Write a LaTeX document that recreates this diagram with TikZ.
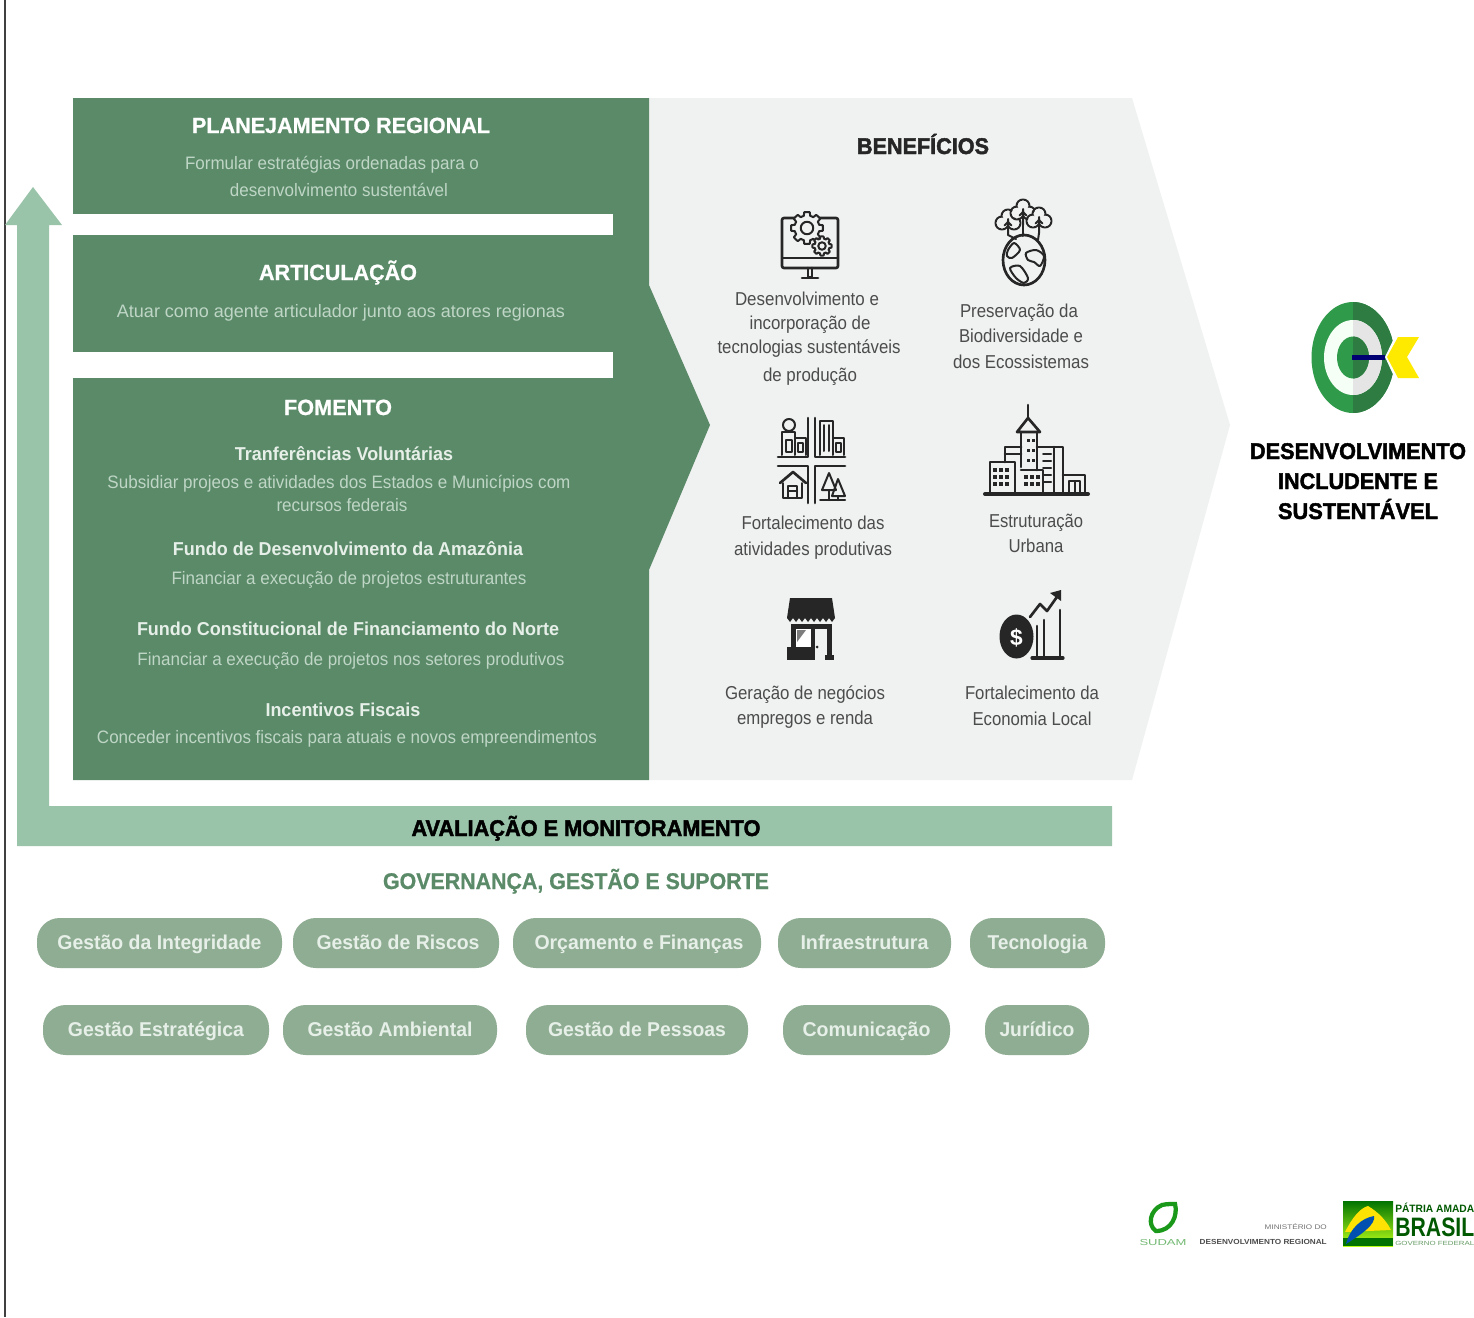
\documentclass[tikz,border=0pt]{standalone}
\usepackage{fontspec}
\usepackage{graphicx}
\setmainfont{Liberation Sans}
\newfontfamily\heavyfont[FakeBold=2]{Liberation Sans Bold}
\newfontfamily\semifont[FakeBold=0.8]{Liberation Sans Bold}
\usetikzlibrary{calc}
\newlength\pxu \setlength\pxu{0.75pt}
\newcommand\fitw[2]{\resizebox{#1\pxu}{\height}{#2}}
\definecolor{dkgreen}{HTML}{5A8A68}
\definecolor{ltgreen}{HTML}{9AC4AA}
\definecolor{bggray}{HTML}{F0F1F1}
\definecolor{pillgreen}{HTML}{8FAD92}
\definecolor{bodytx}{HTML}{BFD6C6}
\definecolor{subtx}{HTML}{E6EFE8}
\definecolor{captx}{HTML}{4C4C4C}
\definecolor{ink}{HTML}{262626}
\tikzset{
  lbl/.style={inner sep=0pt,anchor=base,align=center},
  ttl/.style={lbl,text=white,font=\fontsize{16.5}{18}\selectfont\semifont},
  bodyl/.style={lbl,text=bodytx,font=\fontsize{13.5}{15}\selectfont},
  subl/.style={lbl,text=subtx,font=\fontsize{14}{16}\selectfont\bfseries},
  capl/.style={lbl,text=captx,font=\fontsize{14}{16}\selectfont},
  bigl/.style={lbl,text=black,font=\fontsize{17}{19}\selectfont\heavyfont},
  pill/.style={fill=pillgreen,rounded corners=17pt,inner sep=0pt,minimum height=37.5pt,text=subtx,font=\fontsize{15}{17}\selectfont\bfseries,text height=13pt,text depth=3pt},
  icon/.style={draw=ink,line width=2pt,line join=round,line cap=round},
  iconthin/.style={draw=ink,line width=1.5pt,line join=round,line cap=round},
  iconfill/.style={fill=ink},
}
\newcommand\gearic[3]{\draw[iconthin,fill=bggray] plot[domain=0:360,samples=73,variable=\t] ({#1+(#3+(cos(8*\t)>0?0.28*#3:0))*cos(\t)},{#2+(#3+(cos(8*\t)>0?0.28*#3:0))*sin(\t)}) -- cycle;
  \draw[iconthin] (#1,#2) ellipse ({0.5*#3} and {0.5*#3});}
\newcommand\treeic[2]{\foreach \dx/\dy in {-6/1,6/1,0/-6}{\draw[iconthin] (#1+\dx,#2+\dy) circle (6.5);}
  \foreach \dx/\dy in {-6/1,6/1,0/-6}{\fill[bggray] (#1+\dx,#2+\dy) circle (5.4);}
  \draw[iconthin] (#1,#2-3) -- (#1,#2+13) (#1,#2) -- (#1-3.5,#2+3.5) (#1,#2) -- (#1+3.5,#2+3.5);}
\begin{document}
\begin{tikzpicture}[x=0.75pt,y=-0.75pt]
\useasboundingbox (0,0) rectangle (1474,1317);
\fill[white] (0,0) rectangle (1474,1317);
\draw[line width=1.1pt,color=black!75] (5,0) -- (5,1317);
% panels
\fill[bggray] (649,98) -- (1132,98) -- (1230,425) -- (1132,780) -- (649,780) -- cycle;
\fill[dkgreen] (73,98) -- (649,98) -- (649,285) -- (710,425) -- (649,570) -- (649,780) -- (73,780) -- cycle;
\fill[white] (73,214) rectangle (613,235);
\fill[white] (73,352) rectangle (613,378);
% arrow
\fill[ltgreen] (17,846) -- (1112,846) -- (1112,806) -- (49,806) -- (49,225) -- (62,225) -- (33,187) -- (5,225) -- (17,225) -- cycle;
% left text
\node[ttl] (t1) at (341,133) {\fitw{298}{PLANEJAMENTO REGIONAL}};
\node[bodyl] (t2) at (332,169) {\fitw{294}{Formular estratégias ordenadas para o}};
\node[bodyl] (t3) at (339,196) {\fitw{218}{desenvolvimento sustentável}};
\node[ttl] (t4) at (338,280) {\fitw{158}{ARTICULAÇÃO}};
\node[bodyl] (t5) at (341,317) {\fitw{448}{Atuar como agente articulador junto aos atores regionas}};
\node[ttl] (t6) at (338,415) {\fitw{108}{FOMENTO}};
\node[subl] (t7) at (344,460) {\fitw{218}{Tranferências Voluntárias}};
\node[bodyl] (t8) at (339,488) {\fitw{463}{Subsidiar projeos e atividades dos Estados e Municípios com}};
\node[bodyl] (t9) at (342,511) {\fitw{131}{recursos federais}};
\node[subl] (t10) at (348,555) {\fitw{350}{Fundo de Desenvolvimento da Amazônia}};
\node[bodyl] (t11) at (349,584) {\fitw{355}{Financiar a execução de projetos estruturantes}};
\node[subl] (t12) at (348,635) {\fitw{422}{Fundo Constitucional de Financiamento do Norte}};
\node[bodyl] (t13) at (351,665) {\fitw{427}{Financiar a execução de projetos nos setores produtivos}};
\node[subl] (t14) at (343,716) {\fitw{155}{Incentivos Fiscais}};
\node[bodyl] (t15) at (347,743) {\fitw{500}{Conceder incentivos fiscais para atuais e novos empreendimentos}};
% benefits
\node[bigl,text=ink] (b0) at (923,154) {\fitw{132}{BENEFÍCIOS}};
\node[capl] (c1) at (807,305) {\fitw{144}{Desenvolvimento e}};
\node[capl] (c2) at (810,329) {\fitw{121}{incorporação de}};
\node[capl] (c3) at (809,353) {\fitw{183}{tecnologias sustentáveis}};
\node[capl] (c4) at (810,381) {\fitw{94}{de produção}};
\node[capl] (c5) at (1019,317) {\fitw{118}{Preservação da}};
\node[capl] (c6) at (1021,342) {\fitw{124}{Biodiversidade e}};
\node[capl] (c7) at (1021,368) {\fitw{136}{dos Ecossistemas}};
\node[capl] (c8) at (813,529) {\fitw{143}{Fortalecimento das}};
\node[capl] (c9) at (813,555) {\fitw{158}{atividades produtivas}};
\node[capl] (c10) at (1036,527) {\fitw{94}{Estruturação}};
\node[capl] (c11) at (1036,552) {\fitw{55}{Urbana}};
\node[capl] (c12) at (805,699) {\fitw{160}{Geração de negócios}};
\node[capl] (c13) at (805,724) {\fitw{136}{empregos e renda}};
\node[capl] (c14) at (1032,699) {\fitw{134}{Fortalecimento da}};
\node[capl] (c15) at (1032,725) {\fitw{119}{Economia Local}};
% icon 1 monitor
\draw[icon,rounded corners=1.5pt] (782,218) rectangle (838,268);
\draw[iconthin] (782,258) -- (838,258);
\draw[icon] (808,268) -- (808,277) -- (812,277) -- (812,268);
\draw[icon] (802,278) -- (818,278);
\gearic{807}{228}{12.5}
\gearic{822}{246}{7.5}
% icon 2 globe
\draw[icon] (1024,260) ellipse (21 and 25);
\draw[iconthin] plot[smooth cycle,tension=0.5] coordinates {(1008,250) (1014,243) (1020,250) (1012,258) (1007,256)};
\draw[iconthin] plot[smooth cycle,tension=0.5] coordinates {(1026,253) (1036,250) (1044,256) (1040,266) (1034,262) (1028,260)};
\draw[iconthin] plot[smooth cycle,tension=0.5] coordinates {(1010,268) (1020,266) (1028,278) (1024,283) (1016,278)};
\treeic{1008}{222}
\treeic{1023}{212}
\treeic{1039}{220}
\draw[iconthin] (1008,235) -- (1016,239);
\draw[iconthin] (1023,225) -- (1023,236);
\draw[iconthin] (1039,233) -- (1038,240);
% icon 3 activities
\draw[icon] (778,457) -- (808,457) -- (808,418);
\draw[icon] (845,457) -- (815,457) -- (815,418);
\draw[icon] (778,466) -- (808,466) -- (808,503);
\draw[icon] (845,466) -- (815,466) -- (815,503);
\draw[iconthin] (782,455) -- (782,432) -- (795,432) -- (795,455) (795,438) -- (806,438) -- (806,455);
\draw[iconthin] (789,425) circle (6);
\draw[iconthin] (786,440) rectangle (792,452);
\draw[iconthin] (798,443) rectangle (803,452);
\draw[iconthin] (820,455) -- (820,421) -- (833,421) -- (833,455) (833,438) -- (844,438) -- (844,455);
\draw[iconthin] (824,425) -- (824,451) (829,425) -- (829,451);
\draw[iconthin] (836,443) rectangle (841,452);
\draw[icon] (780,483) -- (793,472) -- (806,483);
\draw[iconthin] (783,483) -- (783,498) -- (802,498) -- (802,483);
\draw[iconthin] (788,486) rectangle (797,498);
\draw[iconthin] (788,491) -- (797,491);
\draw[iconthin] (829,473) -- (822,490) -- (836,490) -- cycle;
\draw[iconthin] (838,479) -- (832,496) -- (845,496) -- cycle;
\draw[iconthin] (829,490) -- (829,500) (838,496) -- (838,500);
\draw[iconthin] (820,500) -- (845,500);
% icon 4 city
\draw[icon] (1028,405) -- (1028,419);
\draw[icon,fill=bggray] (1017,432) -- (1028,418) -- (1040,432) -- cycle;
\draw[icon] (1005,462) -- (1005,447) -- (1021,447) (1005,454) -- (1021,454);
\draw[icon] (1021,432) -- (1021,467) (1037,432) -- (1037,470);
\draw[icon] (1037,447) -- (1063,447) -- (1063,492);
\draw[icon] (1054,447) -- (1054,492);
\draw[icon] (990,492) -- (990,462) -- (1015,462) -- (1015,492);
\draw[icon] (1021,470) -- (1043,470) -- (1043,492);
\draw[icon] (1063,475) -- (1085,475) -- (1085,492);
\draw[iconthin] (1069,492) -- (1069,481) -- (1080,481) -- (1080,492) (1074.5,481) -- (1074.5,492);
\foreach \wx in {995,1001,1007}{\foreach \wy in {470,477,484}{\fill[ink] (\wx-2,\wy-2) rectangle (\wx+2,\wy+2);}}
\foreach \wx in {1026,1032,1038}{\foreach \wy in {477,484}{\fill[ink] (\wx-2,\wy-2) rectangle (\wx+2,\wy+2);}}
\foreach \wy in {440,450,460}{\fill[ink] (1027,\wy-1.5) rectangle (1030,\wy+1.5);\fill[ink] (1032,\wy-1.5) rectangle (1035,\wy+1.5);}
\foreach \wy in {454,461,468,475,482}{\draw[iconthin] (1043,\wy) -- (1051,\wy);}
\draw[icon,line width=3pt] (985,494) -- (1088,494);
% icon 5 store
\fill[ink] (790,598) -- (832,598) -- (835,618) -- (787,618) -- cycle;
\foreach \sx in {787,793,799,805,811,817,823,829}{\fill[ink] (\sx,618) -- (\sx+6,618) -- (\sx+3,622) -- cycle;}
\fill[ink] (791,624) rectangle (832,629);
\fill[ink] (791,624) rectangle (796,660);
\fill[ink] (787,647) rectangle (815,660);
\fill[ink] (811,624) rectangle (815,660);
\fill[ink] (827,624) rectangle (832,660);
\fill[ink] (825,655) rectangle (834,660);
\fill[white] (796,629) rectangle (811,647);
\fill[ink!60] (797,630) -- (806,630) -- (797,642) -- cycle;
\fill[ink] (817,647) circle (1.5);
% icon 6 coin
\fill[ink] (1016.5,636.5) ellipse (17 and 22);
\node[lbl,text=white,font=\fontsize{17}{19}\selectfont\bfseries] (dollar) at (1016.5,645) {\$};
\draw[icon] (1037,657) -- (1037,626);
\draw[icon] (1044,657) -- (1044,620);
\draw[icon] (1060,657) -- (1060,610);
\draw[icon,line width=2.4pt] (1032,658) -- (1063,658);
\draw[icon] (1030,617) -- (1040,604) -- (1047,611) -- (1059,594);
\fill[ink] (1050,593) -- (1061,590) -- (1061,601) -- cycle;
% bottom band text
\node[bigl] (av) at (586,836) {\fitw{349}{AVALIAÇÃO E MONITORAMENTO}};
\node[lbl,text=dkgreen,font=\fontsize{17}{19}\selectfont\semifont] (gov) at (576,889) {\fitw{386}{GOVERNANÇA, GESTÃO E SUPORTE}};
% pills
\node[pill,minimum width=183.75pt] (p1) at (159.5,943) {\fitw{204}{Gestão da Integridade}};
\node[pill,minimum width=154.5pt] (p2) at (396,943) {\kern3pt\fitw{163}{Gestão de Riscos}};
\node[pill,minimum width=186pt] (p3) at (637,943) {\kern3pt\fitw{209}{Orçamento e Finanças}};
\node[pill,minimum width=129.75pt] (p4) at (864.5,943) {\fitw{128}{Infraestrutura}};
\node[pill,minimum width=101.25pt] (p5) at (1037.5,943) {\fitw{100}{Tecnologia}};
\node[pill,minimum width=169.5pt] (p6) at (156,1030) {\fitw{176}{Gestão Estratégica}};
\node[pill,minimum width=160.5pt] (p7) at (390,1030) {\fitw{165}{Gestão Ambiental}};
\node[pill,minimum width=166.5pt] (p8) at (637,1030) {\fitw{178}{Gestão de Pessoas}};
\node[pill,minimum width=125.25pt] (p9) at (866.5,1030) {\fitw{128}{Comunicação}};
\node[pill,minimum width=78pt] (p10) at (1037,1030) {\fitw{75}{Jurídico}};
% target logo
\definecolor{logoL}{HTML}{2F9A4A}
\definecolor{logoR}{HTML}{2E7C42}
\fill[logoL] (1353,357.5) ellipse (41.5 and 55.5);
\begin{scope}
\clip (1353,290) rectangle (1420,425);
\fill[logoR] (1353,357.5) ellipse (41.5 and 55.5);
\end{scope}
\fill[white!96!green] (1353,357.5) ellipse (29 and 37.5);
\begin{scope}
\clip (1353,290) rectangle (1420,425);
\fill[black!10] (1353,357.5) ellipse (29 and 37.5);
\end{scope}
\fill[logoL] (1353,357.5) ellipse (16 and 21);
\begin{scope}
\clip (1353,290) rectangle (1420,425);
\fill[logoR] (1353,357.5) ellipse (16 and 21);
\end{scope}
\fill[white] (1385,357) -- (1398,330) -- (1420,330) -- (1420,385) -- (1398,385) -- cycle;
\fill[yellow!92!orange] (1398,337) -- (1419,337) -- (1407,357) -- (1419,378) -- (1398,378) -- (1387,357) -- cycle;
\fill[blue!45!black] (1352,355) rectangle (1385,360);
\node[bigl] (d1) at (1358,459) {\fitw{216}{DESENVOLVIMENTO}};
\node[bigl] (d2) at (1358,489) {\fitw{160}{INCLUDENTE E}};
\node[bigl] (d3) at (1358,519) {\fitw{160}{SUSTENTÁVEL}};
% footer logos
\draw[line width=3.2pt,color=green!55!black!90] (1162,1205) .. controls (1150,1210) and (1147,1225) .. (1156,1231) .. controls (1172,1231) and (1178,1215) .. (1175,1204) .. controls (1170,1204) and (1166,1204) .. cycle;
\node[lbl,text=green!50!black!55,font=\fontsize{6.5}{7}\selectfont] (s1) at (1163,1245) {\fitw{47}{SUDAM}};
\node[lbl,text=black!55,font=\fontsize{5}{6}\selectfont,anchor=base east] (m1) at (1327,1229) {\fitw{62}{MINISTÉRIO DO}};
\node[lbl,text=black!70,font=\fontsize{5.5}{6}\selectfont\bfseries,anchor=base east] (m2) at (1327,1244) {\fitw{127}{DESENVOLVIMENTO REGIONAL}};
\shade[bottom color=yellow!70!green!90,top color=green!45!black] (1343,1201) rectangle (1393,1246);
\fill[green!45!black] (1343,1238) rectangle (1393,1246);
\fill[yellow!85!orange] (1345,1232) .. controls (1352,1218) and (1360,1208) .. (1368,1206) .. controls (1378,1212) and (1386,1220) .. (1391,1230) -- cycle;
\fill[blue!55!cyan!70!black] (1346,1244) .. controls (1350,1228) and (1362,1218) .. (1374,1216) .. controls (1376,1224) and (1362,1234) .. cycle;
\node[lbl,text=green!35!black,font=\fontsize{8}{9}\selectfont\bfseries,anchor=base west] (br1) at (1395,1212) {\fitw{79}{PÁTRIA AMADA}};
\node[lbl,text=green!35!black,font=\fontsize{20}{22}\selectfont\bfseries,anchor=base west] (br2) at (1395,1236) {\fitw{79}{BRASIL}};
\node[lbl,text=green!35!black!60,font=\fontsize{4.5}{5}\selectfont,anchor=base west] (br3) at (1395,1245) {\fitw{79}{GOVERNO FEDERAL}};
\end{tikzpicture}
\end{document}
